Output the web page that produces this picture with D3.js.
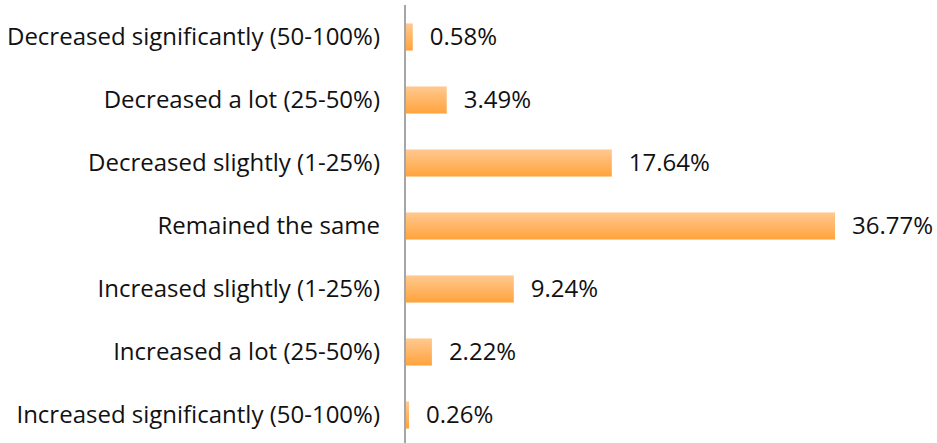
<!DOCTYPE html>
<html><head><meta charset="utf-8">
<script src="https://cdn.jsdelivr.net/npm/d3@7"></script>
<style>body{margin:0;background:#fff}svg{display:block}</style>
</head><body>
<svg id="c" width="937" height="443"></svg>
<script>
const categories = ["Decreased significantly (50-100%)","Decreased a lot (25-50%)","Decreased slightly (1-25%)","Remained the same","Increased slightly (1-25%)","Increased a lot (25-50%)","Increased significantly (50-100%)"];
const values = [0.58, 3.49, 17.64, 36.77, 9.24, 2.22, 0.26];
const valueLabels = ["0.58%","3.49%","17.64%","36.77%","9.24%","2.22%","0.26%"];

const svg = d3.select("#c");
const x0 = 406;
const x = d3.scaleLinear().domain([0, 36.77]).range([x0, 835]);
const y = d3.scaleBand().domain(categories).range([5.5, 446.5]).paddingInner(0.57).paddingOuter(0.285);

const defs = svg.append("defs");
const g = defs.append("linearGradient").attr("id","gr").attr("x1",0).attr("y1",0).attr("x2",0).attr("y2",1);
g.append("stop").attr("offset","0%").attr("stop-color","#ffc990");
g.append("stop").attr("offset","100%").attr("stop-color","#ffa33c");

svg.selectAll("rect.bar").data(values).join("rect").attr("class","bar")
  .attr("x", x0).attr("y",(d,i)=>y(categories[i]))
  .attr("width", d=>x(d)-x0).attr("height", y.bandwidth())
  .attr("fill","url(#gr)");

svg.append("line").attr("x1",405).attr("x2",405).attr("y1",5).attr("y2",443)
  .attr("stroke","#a6a6a6").attr("stroke-width",2);

const font = "'Open Sans', sans-serif";
svg.selectAll("text.cat").data(categories).join("text").attr("class","cat")
  .attr("x",380).attr("y",d=>y(d)+y.bandwidth()/2).attr("dy","0.35em")
  .attr("text-anchor","end").attr("font-family",font).attr("font-size",24).attr("fill","#111")
  .text(d=>d);

svg.selectAll("text.val").data(values).join("text").attr("class","val")
  .attr("x",d=>x(d)+17).attr("y",(d,i)=>y(categories[i])+y.bandwidth()/2).attr("dy","0.35em")
  .attr("font-family",font).attr("font-size",24).attr("fill","#111")
  .text((d,i)=>valueLabels[i]);
</script>
</body></html>
